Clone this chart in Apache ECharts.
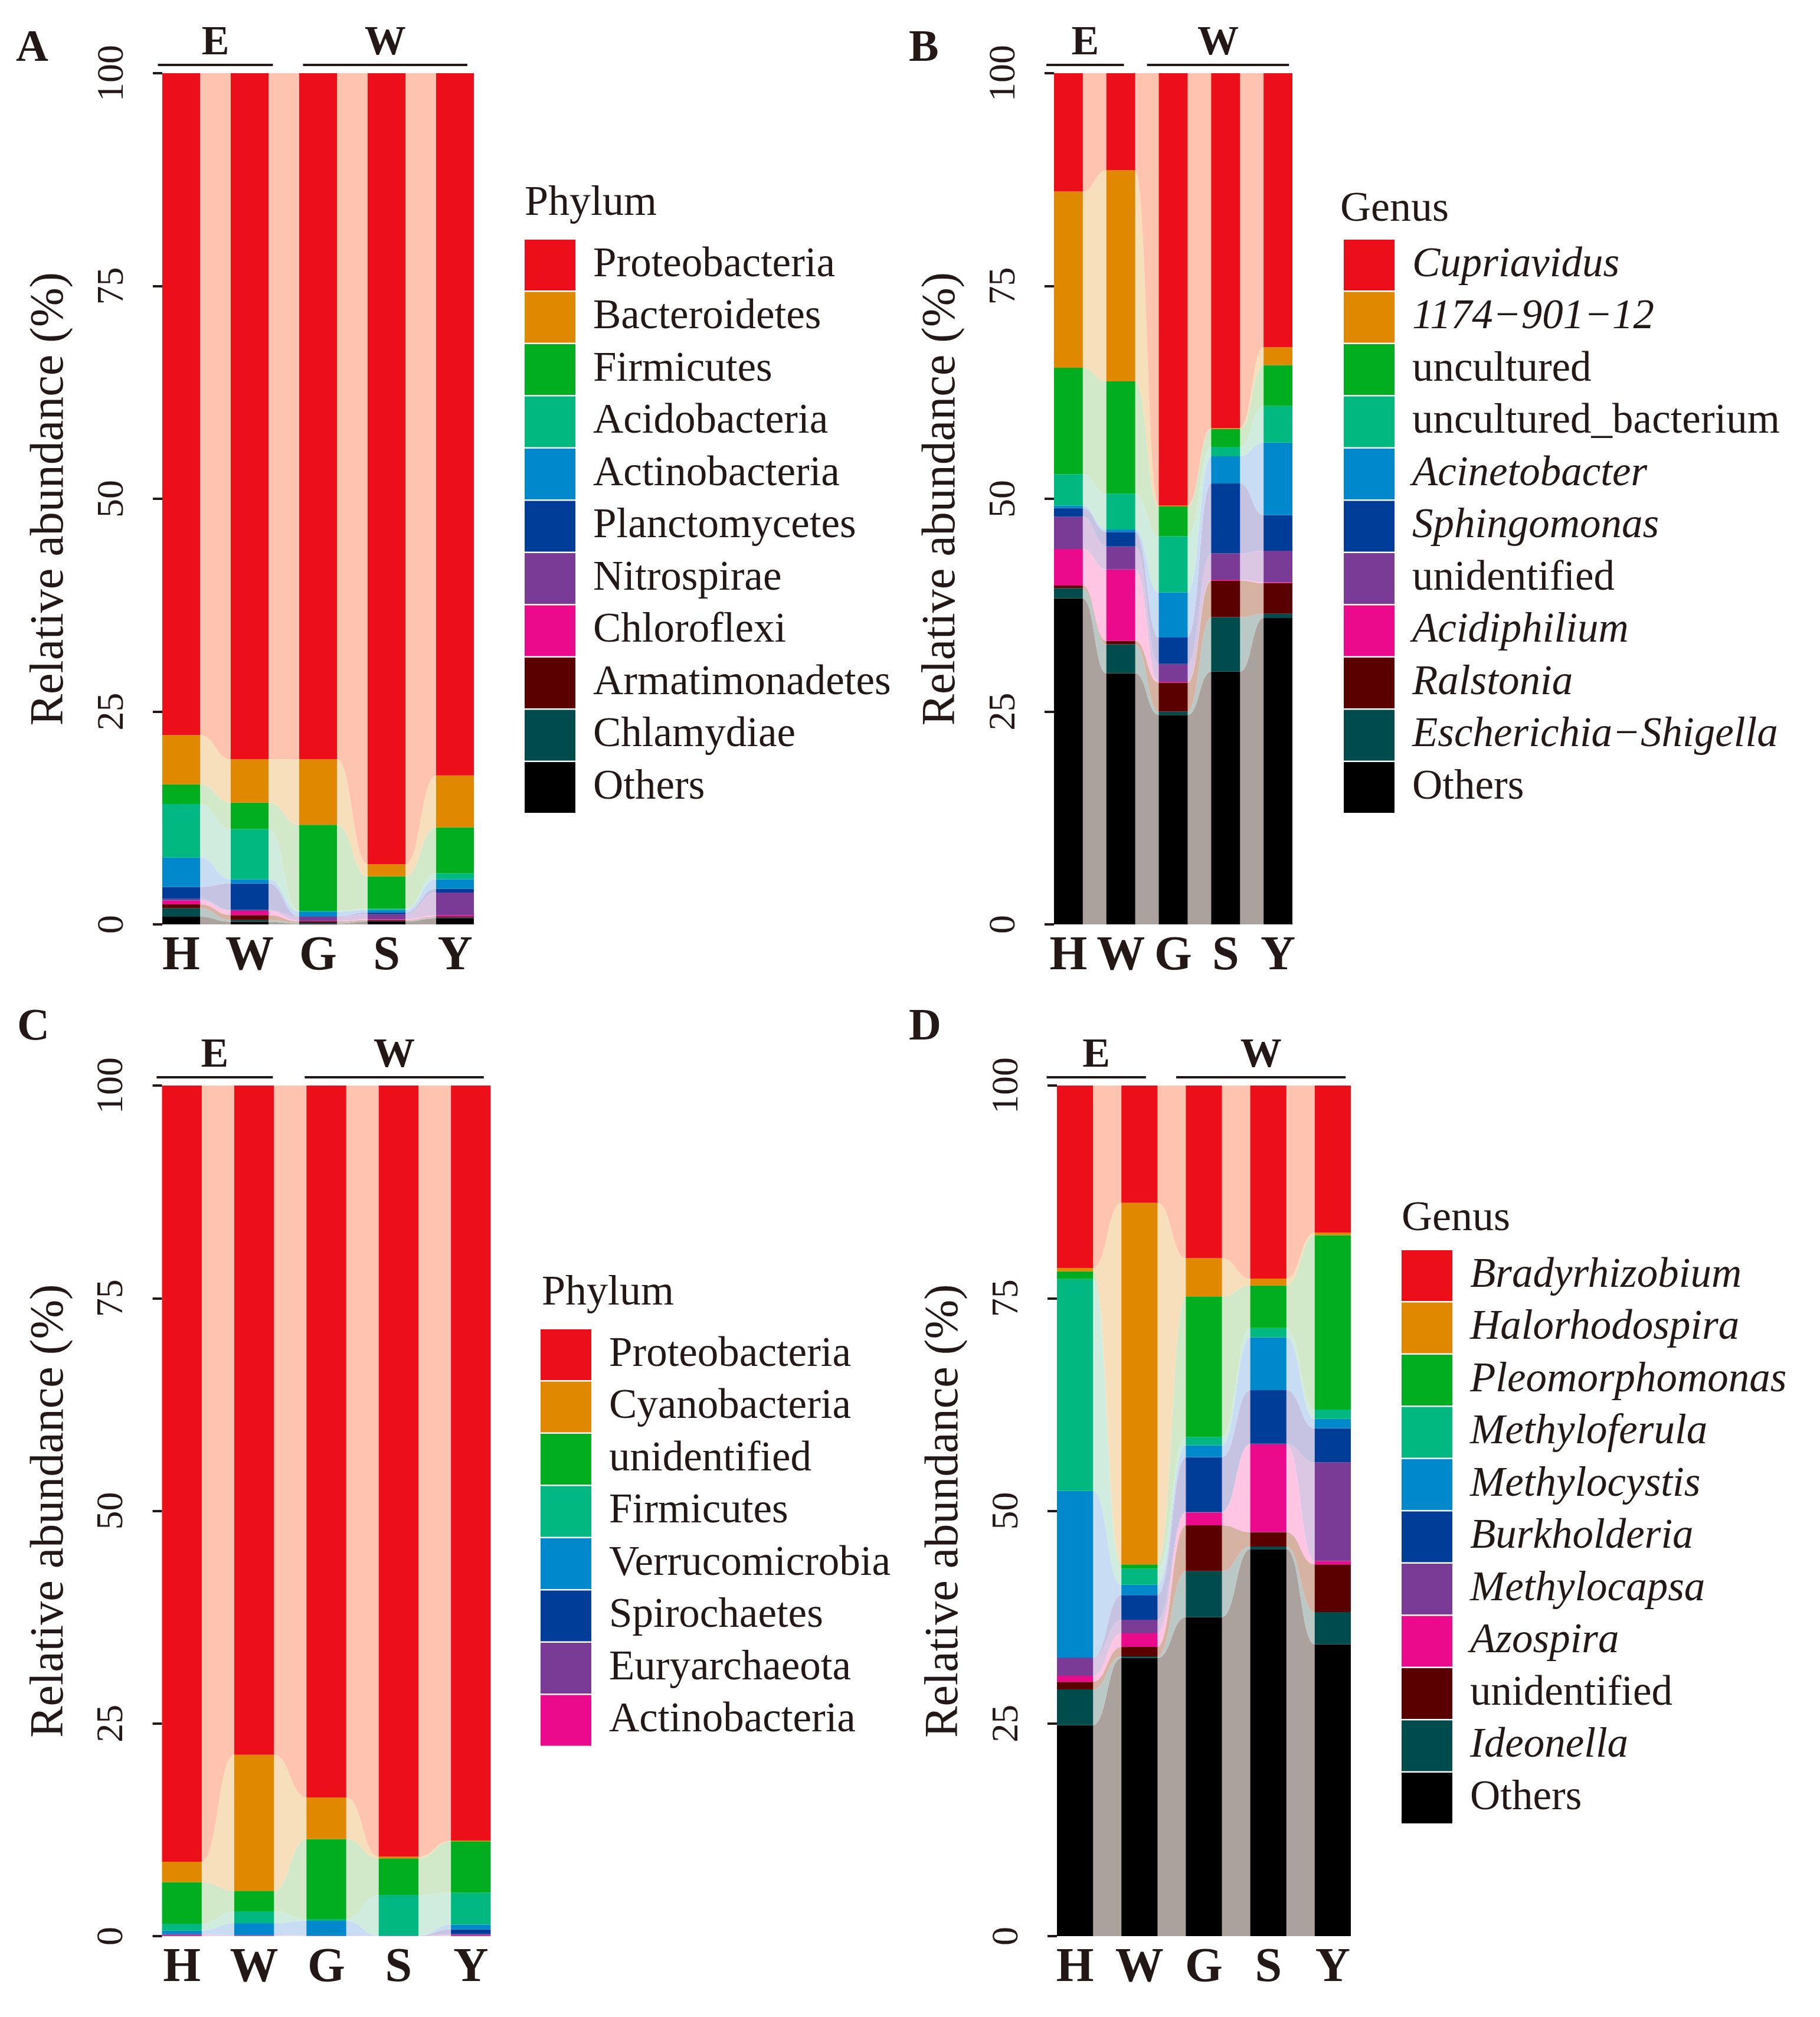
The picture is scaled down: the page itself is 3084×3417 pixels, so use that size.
<!DOCTYPE html>
<html><head><meta charset="utf-8">
<script src="https://cdn.jsdelivr.net/npm/echarts@6/dist/echarts.min.js"></script>
<style>html,body{margin:0;padding:0;background:#fff}#c{width:3084px;height:3417px}</style>
</head><body><div id="c"></div>
<script>
// ---------------- data ----------------
const samples = ['H', 'W', 'G', 'S', 'Y'];

const taxaA = ['Proteobacteria','Bacteroidetes','Firmicutes','Acidobacteria','Actinobacteria','Planctomycetes','Nitrospirae','Chloroflexi','Armatimonadetes','Chlamydiae','Others'];
const abundA = [
  [77.75, 80.6, 80.6, 92.95, 82.5],
  [5.8, 5.1, 7.7, 1.4, 6.1],
  [2.3, 3.1, 10.1, 3.8, 5.4],
  [6.3, 5.9, 0.1, 0.15, 0.7],
  [3.45, 0.5, 0.55, 0.3, 1.1],
  [1.4, 3.1, 0.05, 0.2, 0.45],
  [0.2, 0.1, 0.5, 0.6, 2.7],
  [0.45, 0.5, 0.05, 0.1, 0.15],
  [0.45, 0.6, 0.15, 0.1, 0.1],
  [1.0, 0.2, 0.1, 0.05, 0.1],
  [0.9, 0.3, 0.1, 0.35, 0.7]
];

const taxaB = ['Cupriavidus','1174\u2212901\u221212','uncultured','uncultured_bacterium','Acinetobacter','Sphingomonas','unidentified','Acidiphilium','Ralstonia','Escherichia\u2212Shigella','Others'];
const abundB = [
  [13.9, 11.4, 50.8, 41.7, 32.2],
  [20.7, 24.8, 0.1, 0.1, 2.1],
  [12.5, 13.2, 3.5, 2.1, 4.8],
  [3.7, 4.2, 6.6, 1.1, 4.3],
  [0.3, 0.3, 5.3, 3.2, 8.5],
  [1.0, 1.7, 3.1, 8.2, 4.2],
  [3.8, 2.7, 2.1, 3.1, 3.7],
  [4.3, 8.4, 0.1, 0.1, 0.1],
  [0.3, 0.4, 3.4, 4.3, 3.6],
  [1.2, 3.4, 0.4, 6.4, 0.5],
  [38.3, 29.5, 24.6, 29.7, 36.0]
];
const italicB = ['Cupriavidus','1174\u2212901\u221212','Acinetobacter','Sphingomonas','Acidiphilium','Ralstonia','Escherichia\u2212Shigella'];

const taxaC = ['Proteobacteria','Cyanobacteria','unidentified','Firmicutes','Verrucomicrobia','Spirochaetes','Euryarchaeota','Actinobacteria'];
const abundC = [
  [91.25, 78.68, 83.69, 90.65, 88.75],
  [2.4, 16.0, 4.9, 0.2, 0.1],
  [4.9, 2.4, 9.4, 4.3, 6.05],
  [0.8, 1.4, 0.2, 4.8, 3.75],
  [0.4, 1.4, 1.75, 0.02, 0.55],
  [0.05, 0.02, 0.02, 0.01, 0.55],
  [0.1, 0.05, 0.02, 0.01, 0.15],
  [0.1, 0.05, 0.02, 0.01, 0.1]
];

const taxaD = ['Bradyrhizobium','Halorhodospira','Pleomorphomonas','Methyloferula','Methylocystis','Burkholderia','Methylocapsa','Azospira','unidentified','Ideonella','Others'];
const abundD = [
  [21.45, 13.8, 20.3, 22.7, 17.3],
  [0.4, 42.5, 4.5, 0.8, 0.3],
  [0.9, 0.5, 16.5, 5.0, 20.5],
  [24.9, 1.9, 1.0, 1.1, 1.1],
  [19.6, 1.2, 1.4, 6.2, 1.1],
  [0.05, 2.9, 6.4, 6.3, 4.0],
  [2.1, 1.6, 0.1, 0.1, 11.6],
  [0.7, 1.6, 1.5, 10.3, 0.4],
  [0.9, 1.1, 5.4, 1.7, 5.6],
  [4.2, 0.2, 5.4, 0.3, 3.8],
  [24.8, 32.7, 37.5, 45.5, 34.3]
];
const italicD = ['Bradyrhizobium','Halorhodospira','Pleomorphomonas','Methyloferula','Methylocystis','Burkholderia','Methylocapsa','Azospira','Ideonella'];

const yTicks = [0, 25, 50, 75, 100];

// ---------------- styles ----------------
const colors = ['#EC0E19','#E08900','#00AE1F','#00B880','#0088CC','#003D99','#7A3B96','#EC0A8C','#5A0000','#004B4B','#000000'];
const flowColors = ['#FFC1AB','#F8DDB8','#CFE8C6','#CDEBDC','#C5DAF2','#C3BFE0','#D9C4E2','#FFC2E2','#D4AE9E','#B6C6C2','#A69D99'];
const ink = '#231815';
const serif = "'Liberation Serif', 'Times New Roman', serif";

const panels = [
  { id: 'A', taxa: taxaA, abund: abundA, italic: [], title: 'Phylum',
    grid: { left: 249, top: 124, width: 580, height: 1442 }, f: 0.552,
    legend: { left: 889, top: 406 }, ltitle: [889, 345], letter: [27, 83],
    groups: [['E', 0, -0.34, 1, 0.34], ['W', 2, -0.22, 4, 0.18]] },
  { id: 'B', taxa: taxaB, abund: abundB, italic: italicB, title: 'Genus',
    grid: { left: 1766, top: 124, width: 444, height: 1442 }, f: 0.55,
    legend: { left: 2277, top: 406 }, ltitle: [2271, 355], letter: [1540, 83],
    groups: [['E', 0, -0.42, 1, 0.06], ['W', 2, -0.5, 4, 0.21]] },
  { id: 'C', taxa: taxaC, abund: abundC, italic: [], title: 'Phylum',
    grid: { left: 247, top: 1839, width: 612, height: 1441 }, f: 0.55,
    legend: { left: 916, top: 2252 }, ltitle: [918, 2191], letter: [29, 1741],
    groups: [['E', 0, -0.35, 1, 0.26], ['W', 2, -0.3, 4, 0.18]] },
  { id: 'D', taxa: taxaD, abund: abundD, italic: italicD, title: 'Genus',
    grid: { left: 1767, top: 1839, width: 546, height: 1441 }, f: 0.56,
    legend: { left: 2375, top: 2118 }, ltitle: [2375, 2065], letter: [1540, 1741],
    groups: [['E', 0, -0.44, 1, 0.1], ['W', 2, -0.43, 4, 0.2]] }
];

const grids = [], xAxes = [], yAxes = [], series = [], legends = [], graphics = [];

panels.forEach((p, k) => {
  const pitch = p.grid.width / samples.length;
  grids.push(p.grid);
  xAxes.push({
    type: 'category', gridIndex: k, data: samples, boundaryGap: true,
    axisLine: { show: false }, axisTick: { show: false }, splitLine: { show: false },
    axisLabel: { interval: 0, hideOverlap: false, fontFamily: serif, fontWeight: 'bold', fontSize: 82, color: ink, margin: 14 }
  });
  yAxes.push({
    type: 'value', gridIndex: k, min: 0, max: 100, interval: 25,
    offset: -pitch * (1 - p.f) / 2,
    axisLine: { show: false }, splitLine: { show: false },
    axisTick: { show: true, length: 16, lineStyle: { color: ink, width: 4 } },
    axisLabel: { rotate: 90, fontFamily: serif, fontSize: 64, color: ink, margin: 52,
      formatter: v => yTicks.includes(v) ? String(v) : '' },
    name: 'Relative abundance (%)', nameLocation: 'middle', nameGap: 150,
    nameTextStyle: { fontFamily: serif, fontSize: 80, color: ink }
  });

  const n = p.taxa.length;
  // stacked bars, bottom (Others) first
  for (let t = n - 1; t >= 0; t--) {
    series.push({
      type: 'bar', name: p.id + ':' + p.taxa[t], xAxisIndex: k, yAxisIndex: k,
      stack: 'st' + p.id, barWidth: (p.f * 100) + '%', z: 3, silent: true,
      itemStyle: { color: colors[t] }, data: p.abund[t]
    });
  }
  // flows between consecutive bars
  const flowData = [];
  for (let i = 0; i < samples.length - 1; i++) {
    let cumA = 0, cumB = 0;
    for (let t = n - 1; t >= 0; t--) {
      const va = p.abund[t][i], vb = p.abund[t][i + 1];
      flowData.push([i, cumA, cumA + va, cumB, cumB + vb, t]);
      cumA += va; cumB += vb;
    }
  }
  const f = p.f;
  series.push({
    type: 'custom', xAxisIndex: k, yAxisIndex: k, z: 1, silent: true, clip: false,
    encode: { x: 0, y: [1, 2, 3, 4] },
    data: flowData,
    renderItem: (params, api) => {
      const i = api.value(0);
      const a0 = api.coord([i, api.value(1)]);
      const a1 = api.coord([i, api.value(2)]);
      const b0 = api.coord([i + 1, api.value(3)]);
      const b1 = api.coord([i + 1, api.value(4)]);
      const hw = api.size([1, 0])[0] * f / 2;
      const xa = a0[0] + hw - 0.5, xb = b0[0] - hw + 0.5, xm = (xa + xb) / 2;
      const d = 'M' + xa + ' ' + a1[1] + ' C' + xm + ' ' + a1[1] + ' ' + xm + ' ' + b1[1] + ' ' + xb + ' ' + b1[1] +
        ' L' + xb + ' ' + b0[1] + ' C' + xm + ' ' + b0[1] + ' ' + xm + ' ' + a0[1] + ' ' + xa + ' ' + a0[1] + ' Z';
      return { type: 'path', shape: { pathData: d }, style: { fill: flowColors[api.value(5)], opacity: 0.95 } };
    }
  });

  legends.push({
    orient: 'vertical', left: p.legend.left, top: p.legend.top, padding: 0,
    itemWidth: 86, itemHeight: 86, itemGap: 2.5, icon: 'rect', selectedMode: false,
    formatter: nm => nm.slice(2),
    textStyle: { fontFamily: serif, fontSize: 71, color: ink, lineHeight: 80, padding: [0, 0, 0, 25] },
    data: p.taxa.map(t => ({ name: p.id + ':' + t,
      textStyle: { fontStyle: p.italic.includes(t) ? 'italic' : 'normal' } }))
  });

  graphics.push({ type: 'text', style: { text: p.title, x: p.ltitle[0], y: p.ltitle[1],
    font: '72px ' + serif, fill: ink, verticalAlign: 'middle', align: 'left' } });
  graphics.push({ type: 'text', style: { text: p.id, x: p.letter[0], y: p.letter[1],
    font: 'bold 76px ' + serif, fill: ink, verticalAlign: 'middle', align: 'left' } });
});

const chart = echarts.init(document.getElementById('c'), null, { renderer: 'canvas' });
chart.setOption({
  backgroundColor: '#ffffff', animation: false,
  grid: grids, xAxis: xAxes, yAxis: yAxes, legend: legends, series: series, graphic: graphics
});

// group bars (E / W) above each panel, placed from the category scale
panels.forEach((p, k) => {
  const px = i => chart.convertToPixel({ xAxisIndex: k }, i);
  const pitch = px(1) - px(0);
  const yLine = p.grid.top - 14;
  p.groups.forEach(g => {
    const x1 = px(g[1]) + g[2] * pitch, x2 = px(g[3]) + g[4] * pitch;
    graphics.push({ type: 'line', shape: { x1: x1, y1: yLine, x2: x2, y2: yLine },
      style: { stroke: ink, lineWidth: 4 } });
    graphics.push({ type: 'text', style: { text: g[0], x: (x1 + x2) / 2, y: p.grid.top - 50,
      font: 'bold 70px ' + serif, fill: ink, verticalAlign: 'middle', align: 'center' } });
  });
});
chart.setOption({ graphic: graphics });
</script>
</body></html>
